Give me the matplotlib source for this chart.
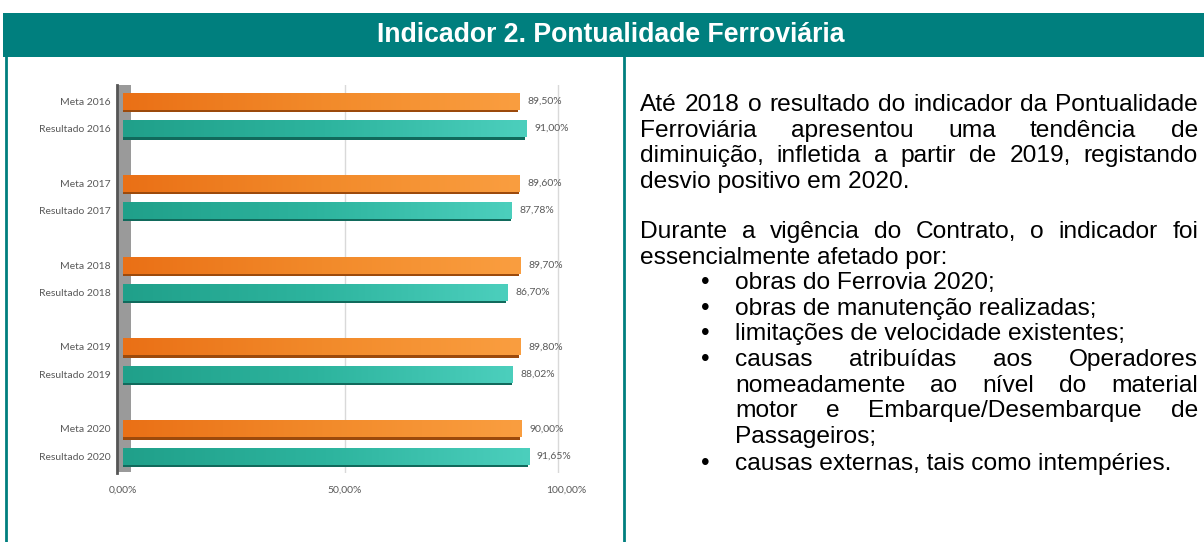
import numpy as np
import matplotlib.pyplot as plt
from matplotlib.patches import Rectangle
from matplotlib.colors import LinearSegmentedColormap

W, H = 1204, 542

years = ["2016", "2017", "2018", "2019", "2020"]
meta = [89.50, 89.60, 89.70, 89.80, 90.00]
resultado = [91.00, 87.78, 86.70, 88.02, 91.65]
x_ticks = [0, 50, 100]

title = "Indicador 2. Pontualidade Ferroviária"
para1 = [
    ("Até 2018 o resultado do indicador da Pontualidade", True),
    ("Ferroviária apresentou uma tendência de", True),
    ("diminuição, infletida a partir de 2019, registando", True),
    ("desvio positivo em 2020.", False),
]
para2 = [
    ("Durante a vigência do Contrato, o indicador foi", True),
    ("essencialmente afetado por:", False),
]
bullets = [
    [("obras do Ferrovia 2020;", False)],
    [("obras de manutenção realizadas;", False)],
    [("limitações de velocidade existentes;", False)],
    [("causas atribuídas aos Operadores", True),
     ("nomeadamente ao nível do material", True),
     ("motor e Embarque/Desembarque de", True),
     ("Passageiros;", False)],
    [("causas externas, tais como intempéries.", False)],
]

teal = "#007f7e"
fig = plt.figure(figsize=(W / 100, H / 100), dpi=100)
fig.patch.set_facecolor("white")
renderer = fig.canvas.get_renderer()
fam = "Liberation Sans"


def fx(px):
    return px / W


def fy(py):
    return 1 - py / H


def text_width(s, size, weight="normal"):
    t = fig.text(0, 0, s, fontsize=size, family=fam, fontweight=weight)
    w = t.get_window_extent(renderer).width
    t.remove()
    return w


# header band and frame lines
fig.patches.append(Rectangle((fx(3), fy(57)), fx(1201), 44 / H, transform=fig.transFigure,
                             facecolor=teal, edgecolor="none", zorder=0))
tfs = 15 * 470 / text_width(title, 15, "bold")
fig.text(fx(611), fy(35), title, color="white", fontsize=tfs, fontweight="bold",
         family=fam, ha="center", va="center")
fig.add_artist(plt.Line2D([fx(6), fx(6)], [fy(57), 0], color=teal, lw=2, transform=fig.transFigure))
fig.add_artist(plt.Line2D([fx(624), fx(624)], [fy(57), 0], color=teal, lw=2, transform=fig.transFigure))

# chart
ax_l, ax_r, ax_t, ax_b = 123, 566, 85, 473
ax = fig.add_axes([fx(ax_l), fy(ax_b), (ax_r - ax_l) / W, (ax_b - ax_t) / H])
labels, pos, vals, kinds = [], [], [], []
for g, yr in enumerate(years):
    labels += ["Meta " + yr, "Resultado " + yr]
    pos += [g * 3, g * 3 + 1]
    vals += [meta[g], resultado[g]]
    kinds += ["meta", "res"]

# back wall
ax.add_patch(Rectangle((-1.4, -0.6), 3.1, 14.2, facecolor="#9a9a9a", edgecolor="none",
                       zorder=1, clip_on=False))
ax.plot([-1.4, -1.4], [-0.6, 13.62], color="#555555", lw=2, zorder=1.5, clip_on=False)

ax.axvline(50, color="#d9d9d9", lw=1, zorder=0.5)
ax.axvline(98.2, color="#d9d9d9", lw=1, zorder=0.5)

cmaps = {
    "meta": LinearSegmentedColormap.from_list("o", ["#ea7016", "#f28a2a", "#fa9e40"]),
    "res": LinearSegmentedColormap.from_list("t", ["#20a08a", "#2db49e", "#4ccfbd"]),
}
shadow = {"meta": "#9c4a0c", "res": "#116a5c"}
bh = 0.62
grad = np.linspace(0, 1, 256).reshape(1, -1)
for p, v, k in zip(pos, vals, kinds):
    ax.add_patch(Rectangle((0, p - bh / 2 + 0.09), v - 0.3, bh, facecolor=shadow[k],
                           edgecolor="none", zorder=2))
    rect = Rectangle((0, p - bh / 2), v, bh, facecolor="none", edgecolor="none", zorder=3)
    ax.add_patch(rect)
    im = ax.imshow(grad, cmap=cmaps[k], extent=(0, v, p + bh / 2, p - bh / 2),
                   aspect="auto", zorder=3, interpolation="bicubic")
    im.set_clip_path(rect)
    ax.text(v + 1.8, p, f"{v:.2f}%".replace(".", ","), color="#595959", fontsize=7.5,
            family="Lato", va="center", ha="left")

ax.set_xlim(0, 100)
ax.set_ylim(13.62, -0.6)
ax.set_yticks(pos)
ax.set_yticklabels(labels, family="Lato", fontsize=7.5, color="#595959")
ax.set_xticks(x_ticks)
ax.set_xticklabels([f"{t:.2f}%".replace(".", ",") for t in x_ticks], family="Lato",
                   fontsize=7.5, color="#595959")
ax.tick_params(axis="y", length=0, pad=9)
ax.tick_params(axis="x", length=0, pad=9)
for s in ax.spines.values():
    s.set_visible(False)
ax.set_facecolor("none")

# right-hand text
tx0, tx1 = 640, 1198
fs = 15 * 552 / text_width(para1[0][0], 15)


def put_line(text, y, x0, x1, justify):
    if not justify:
        fig.text(fx(x0), fy(y), text, fontsize=fs, family=fam, color="black", va="center", ha="left")
        return
    words = text.split()
    widths = [text_width(w, fs) for w in words]
    gap = (x1 - x0 - sum(widths)) / (len(words) - 1)
    x = x0
    for w, wd in zip(words, widths):
        fig.text(fx(x), fy(y), w, fontsize=fs, family=fam, color="black", va="center", ha="left")
        x += wd + gap


y = 105
for line, j in para1:
    put_line(line, y, tx0, tx1, j)
    y += 25.6
y = 232
for line, j in para2:
    put_line(line, y, tx0, tx1, j)
    y += 25.6
for i, item in enumerate(bullets):
    if i == len(bullets) - 1:
        y += 2
    fig.text(fx(705), fy(y), "•", fontsize=fs, family=fam, va="center", ha="center")
    for line, j in item:
        put_line(line, y, 735, tx1, j)
        y += 25.6

fig.savefig("out.png", dpi=100)
